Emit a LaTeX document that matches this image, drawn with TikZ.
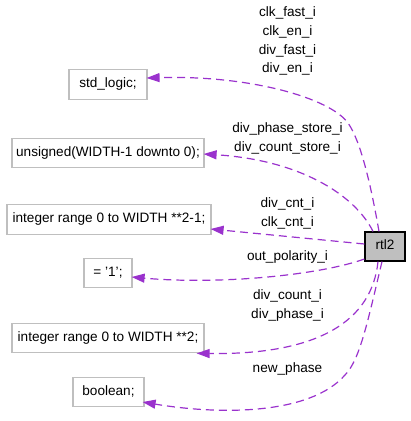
\documentclass[tikz,border=0pt]{standalone}
\usepackage{fontspec}
\setmainfont{Liberation Sans}
\usetikzlibrary{arrows.meta,calc}
\definecolor{edgecol}{HTML}{9A32CD}
\definecolor{boxgray}{HTML}{BFBFBF}
\tikzset{
  typebox/.style={draw=boxgray,line width=1.2pt,fill=white,inner sep=0pt,
    text height=9.7pt,text depth=2.8pt,minimum height=29.5pt},
  mainbox/.style={draw=black,line width=1.2pt,fill=boxgray,inner sep=0pt,
    text height=9.7pt,text depth=2.8pt,minimum height=29pt,minimum width=40pt},
  dep/.style={draw=edgecol,line width=1.2pt,dash pattern=on 8pt off 5pt,
    -{Triangle[length=13pt,width=9pt,fill=edgecol]}},
  lbl/.style={anchor=base,inner sep=0pt}
}
\begin{document}
\begin{tikzpicture}[x=1pt,y=-1pt,font=\fontsize{13.6}{16}\selectfont]
\useasboundingbox (0,0) rectangle (411,421);
% type boxes
\node[typebox,minimum width=78pt]  (std)   at (108,84.5) {std\_logic;};
\node[typebox,minimum width=192pt] (unsig) at (108,153)  {unsigned(WIDTH-1 downto 0);};
\node[typebox,minimum width=204pt] (int21) at (109,219.5){integer range 0 to WIDTH **2-1;};
\node[typebox,minimum width=48pt]  (eq)    at (108,273)  {= '1';};
\node[typebox,minimum width=192pt] (int2)  at (108,338)  {integer range 0 to WIDTH **2;};
\node[typebox,minimum width=71pt]  (bool)  at (108.5,392){boolean;};
\node[mainbox] (rtl2) at (385,246.5) {rtl2};
% connectors
\draw[dep] ($(rtl2.north)+(-6,0)$) .. controls (370,180) and (360,140) .. (348,123)
  .. controls (330,98) and (250,75) .. ($(std.east)+(-1,-6.5)$);
\draw[dep] ($(rtl2.north)+(-12,0)$) .. controls (355,195) and (300,160) .. ($(unsig.east)+(-1,1)$);
\draw[dep] ($(rtl2.west)+(0,-2.5)$) -- ($(int21.east)+(-1,9.5)$);
\draw[dep] ($(rtl2.west)+(0,12.5)$) .. controls (320,275) and (220,285) .. ($(eq.east)+(-1,4)$);
\draw[dep] ($(rtl2.south)+(-7,0)$) .. controls (372,320) and (320,355) .. ($(int2.south east)+(-8,0)$);
\draw[dep] ($(rtl2.south)+(-3,0)$) .. controls (368,320) and (360,360) .. (345,375)
  .. controls (310,415) and (220,415) .. ($(bool.east)+(-2,10)$);
% labels
\node[lbl] (l1a) at (287.5,16.7) {clk\_fast\_i};
\node[lbl] (l1b) at (287.5,35.4) {clk\_en\_i};
\node[lbl] (l1c) at (287.5,54.1) {div\_fast\_i};
\node[lbl] (l1d) at (287.5,72.8) {div\_en\_i};
\node[lbl] (l2a) at (287.5,132.3) {div\_phase\_store\_i};
\node[lbl] (l2b) at (287.5,151) {div\_count\_store\_i};
\node[lbl] (l3a) at (287.5,207.5) {div\_cnt\_i};
\node[lbl] (l3b) at (287.5,226.2) {clk\_cnt\_i};
\node[lbl] (l4a) at (287.5,260) {out\_polarity\_i};
\node[lbl] (l5a) at (287.5,299.6) {div\_count\_i};
\node[lbl] (l5b) at (287.5,318.3) {div\_phase\_i};
\node[lbl] (l6a) at (287.5,372.3) {new\_phase};
\end{tikzpicture}
\end{document}
